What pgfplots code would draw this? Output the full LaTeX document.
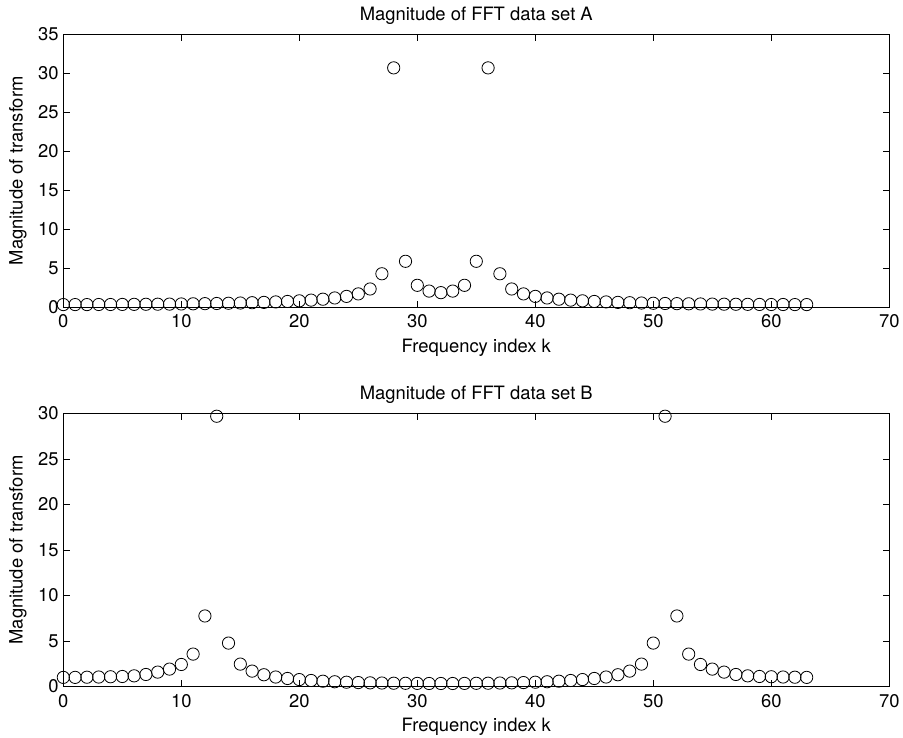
\documentclass[border=0pt]{standalone}
\usepackage{pgfplots}
\pgfplotsset{compat=1.18}
\usepackage{fontspec}
\setmainfont{TeX Gyre Heros}

% FFT magnitudes, k = 0..63
\pgfplotstableread{
k A
0 0.35
1 0.35
2 0.35
3 0.36
4 0.36
5 0.37
6 0.38
7 0.39
8 0.40
9 0.41
10 0.43
11 0.45
12 0.47
13 0.49
14 0.52
15 0.55
16 0.59
17 0.63
18 0.69
19 0.75
20 0.83
21 0.92
22 1.04
23 1.20
24 1.40
25 1.72
26 2.35
27 4.30
28 30.7
29 5.90
30 2.82
31 2.08
32 1.88
33 2.08
34 2.82
35 5.90
36 30.7
37 4.30
38 2.35
39 1.72
40 1.40
41 1.20
42 1.04
43 0.92
44 0.83
45 0.75
46 0.69
47 0.63
48 0.59
49 0.55
50 0.52
51 0.49
52 0.47
53 0.45
54 0.43
55 0.41
56 0.40
57 0.39
58 0.38
59 0.37
60 0.36
61 0.36
62 0.35
63 0.35
}\dataA

\pgfplotstableread{
k B
0 1.00
1 1.00
2 1.02
3 1.04
4 1.07
5 1.10
6 1.17
7 1.32
8 1.58
9 1.91
10 2.42
11 3.56
12 7.75
13 29.7
14 4.77
15 2.46
16 1.69
17 1.29
18 1.04
19 0.88
20 0.76
21 0.66
22 0.58
23 0.52
24 0.47
25 0.43
26 0.40
27 0.38
28 0.36
29 0.35
30 0.34
31 0.33
32 0.33
33 0.33
34 0.34
35 0.35
36 0.36
37 0.38
38 0.40
39 0.43
40 0.47
41 0.52
42 0.58
43 0.66
44 0.76
45 0.88
46 1.04
47 1.29
48 1.69
49 2.46
50 4.77
51 29.7
52 7.75
53 3.56
54 2.42
55 1.91
56 1.58
57 1.32
58 1.17
59 1.10
60 1.07
61 1.04
62 1.02
63 1.00
}\dataB

\pgfplotsset{
  fftstyle/.style={
    scale only axis,
    width=619.5pt, height=204.75pt,
    xmin=0, xmax=70,
    xtick={0,10,...,70},
    tick align=inside,
    major tick length=5pt,
    axis line style={line width=0.6pt},
    every tick/.style={line width=0.6pt, black},
    tick label style={font=\fontsize{13.8}{16}\selectfont},
    xticklabel style={inner sep=5.5pt},
    label style={font=\fontsize{13.8}{16}\selectfont},
    title style={font=\fontsize{13.8}{16}\selectfont, at={(axis description cs:0.5,1)}, anchor=center, yshift=8pt},
    /pgf/number format/assume math mode=true,
    xlabel={Frequency index k},
    ylabel={Magnitude of transform},
    xlabel style={at={(axis description cs:0.5,0)}, anchor=center, yshift=-30pt},
    ylabel style={at={(axis description cs:-0.0549,0.5)}, anchor=center},
  },
  fftmark/.style={only marks, mark=o, mark size=4.6pt, black, mark options={line width=0.6pt}},
}

\begin{document}
\begin{tikzpicture}
\useasboundingbox (-47.5pt,-323pt) rectangle (629.8pt,230.5pt);
\begin{axis}[fftstyle, at={(0pt,0pt)}, anchor=south west,
  ymin=0, ymax=35, ytick={0,5,...,35},
  title={Magnitude of FFT data set A}]
\addplot[fftmark] table[x=k, y=A] {\dataA};
\end{axis}
\begin{axis}[fftstyle, at={(0pt,-284.4pt)}, anchor=south west,
  ymin=0, ymax=30, ytick={0,5,...,30},
  title={Magnitude of FFT data set B}]
\addplot[fftmark] table[x=k, y=B] {\dataB};
\end{axis}
\end{tikzpicture}
\end{document}
